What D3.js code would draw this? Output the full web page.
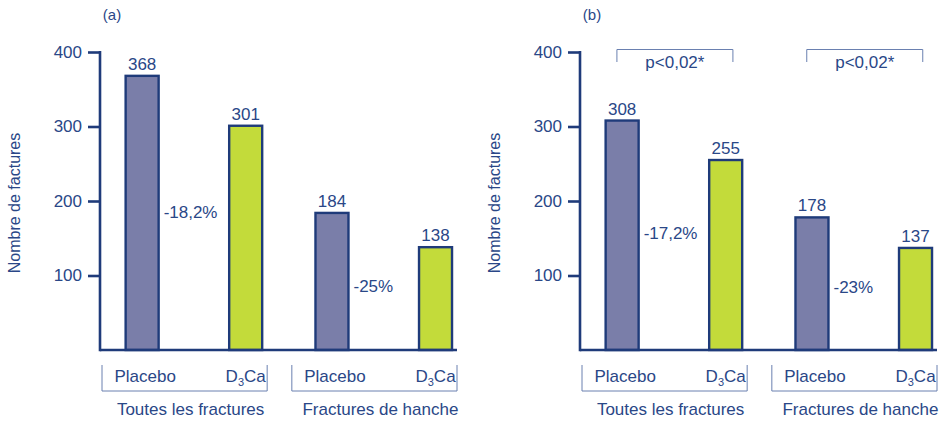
<!DOCTYPE html>
<html>
<head>
<meta charset="utf-8">
<script src="https://cdn.jsdelivr.net/npm/d3@7"></script>
<style>
  html, body { margin: 0; padding: 0; background: #fff; }
  svg { display: block; font-family: "Liberation Sans", Arial, sans-serif; }
</style>
</head>
<body>
<svg id="chart" width="943" height="423"></svg>
<script>
// Data
const groups = ["Toutes les fractures", "Fractures de hanche"];
const treatments = ["Placebo", "D3Ca"];
const panelTitles = ["(a)", "(b)"];
// values per panel: [group][treatment]
const valuesA = [[368, 301], [184, 138]];
const valuesB = [[308, 255], [178, 137]];
const reductionA = ["-18,2%", "-25%"];
const reductionB = ["-17,2%", "-23%"];
const pLabelsB = ["p<0,02*", "p<0,02*"];
const yTicks = [100, 200, 300, 400];
const yTitle = "Nombre de factures";

const navy = "#1f3b7a";
const textCol = "#2a4787";
const bracketCol = "#6a80b0";
const fills = { "Placebo": "#7a7ea9", "D3Ca": "#c3db3a" };
const fs = "17px";

const svg = d3.select("#chart");

function drawPanel(offsetX, title, values, reductions, pLabels) {
  const g = svg.append("g").attr("transform", `translate(${offsetX},0)`);
  const axisX = 100, baseY = 350, topY = 52, endX = 457;

  const y = d3.scaleLinear().domain([0, 400]).range([baseY, topY]);
  const xGroup = d3.scaleBand().domain(groups).range([axisX + 2, endX]).paddingInner(0.13);
  const bw = xGroup.bandwidth();
  const xInner = d3.scalePoint().domain(treatments).range([bw * 0.243, bw * 0.87]);
  const barW = 33;

  // panel title
  g.append("text").attr("x", 112).attr("y", 20).attr("text-anchor", "middle")
    .attr("fill", textCol).style("font-size", "15px").text(title);

  // y title
  g.append("text").attr("transform", "translate(20,203) rotate(-90)")
    .attr("text-anchor", "middle").attr("fill", textCol)
    .style("font-size", "16px").text(yTitle);

  // y axis
  const yAxis = d3.axisLeft(y).tickValues(yTicks).tickSize(12).tickPadding(6);
  const ax = g.append("g").attr("transform", `translate(${axisX},0)`).call(yAxis);
  ax.select(".domain").remove();
  ax.selectAll(".tick line").attr("stroke", navy).attr("stroke-width", 2.6);
  ax.selectAll(".tick text").attr("fill", textCol).style("font-size", fs)
    .style("font-family", "Liberation Sans, Arial, sans-serif");
  g.append("line").attr("x1", axisX).attr("x2", axisX).attr("y1", topY - 1).attr("y2", baseY + 1.3)
    .attr("stroke", navy).attr("stroke-width", 2.6);

  const flat = [];
  groups.forEach((grp, gi) => treatments.forEach((t, ti) => {
    flat.push({ grp, gi, t, v: values[gi][ti], cx: xGroup(grp) + xInner(t) });
  }));

  // bars
  g.selectAll("rect.bar").data(flat).join("rect").attr("class", "bar")
    .attr("x", d => d.cx - barW / 2).attr("width", barW)
    .attr("y", d => y(d.v)).attr("height", d => baseY - y(d.v))
    .attr("fill", d => fills[d.t]).attr("stroke", navy).attr("stroke-width", 2.4);

  // baseline
  g.append("line").attr("x1", axisX).attr("x2", endX).attr("y1", baseY).attr("y2", baseY)
    .attr("stroke", navy).attr("stroke-width", 2.6);

  // value labels
  g.selectAll("text.val").data(flat).join("text").attr("class", "val")
    .attr("x", d => d.cx).attr("y", d => y(d.v) - 6).attr("text-anchor", "middle")
    .attr("fill", textCol).style("font-size", fs).text(d => d.v);

  // reduction labels between bars of each group
  groups.forEach((grp, gi) => {
    const cx0 = xGroup(grp) + xInner(treatments[0]);
    g.append("text").attr("x", cx0 + barW / 2 + 5).attr("y", y(values[gi][1] * 0.61) + 5)
      .attr("fill", textCol).style("font-size", fs).text(reductions[gi]);
  });

  // category brackets and labels
  groups.forEach((grp, gi) => {
    const x0 = xGroup(grp), x1 = x0 + bw;
    g.append("path").attr("d", `M${x0},365V391H${x1}V365`)
      .attr("fill", "none").attr("stroke", bracketCol).attr("stroke-width", 1);
    treatments.forEach(t => {
      const tx = g.append("text").attr("x", x0 + xInner(t) + (t === "Placebo" ? 3 : 0)).attr("y", 382)
        .attr("text-anchor", "middle").attr("fill", textCol).style("font-size", fs);
      if (t === "D3Ca") {
        tx.append("tspan").text("D");
        tx.append("tspan").attr("dy", 4).style("font-size", "11px").text("3");
        tx.append("tspan").attr("dy", -4).text("Ca");
      } else {
        tx.text(t);
      }
    });
    g.append("text").attr("x", x0 + bw / 2 + 6).attr("y", 415).attr("text-anchor", "middle")
      .attr("fill", textCol).style("font-size", fs).text(grp);
  });

  // significance brackets
  if (pLabels) {
    groups.forEach((grp, gi) => {
      const mid = xGroup(grp) + (xInner(treatments[0]) + xInner(treatments[1])) / 2 + 1;
      const half = 58;
      g.append("path").attr("d", `M${mid - half},62V49.5H${mid + half}V62`)
        .attr("fill", "none").attr("stroke", bracketCol).attr("stroke-width", 1);
      g.append("text").attr("x", mid).attr("y", 67.5).attr("text-anchor", "middle")
        .attr("fill", textCol).style("font-size", fs).text(pLabels[gi]);
    });
  }
}

drawPanel(0, panelTitles[0], valuesA, reductionA, null);
drawPanel(480, panelTitles[1], valuesB, reductionB, pLabelsB);
</script>
</body>
</html>
